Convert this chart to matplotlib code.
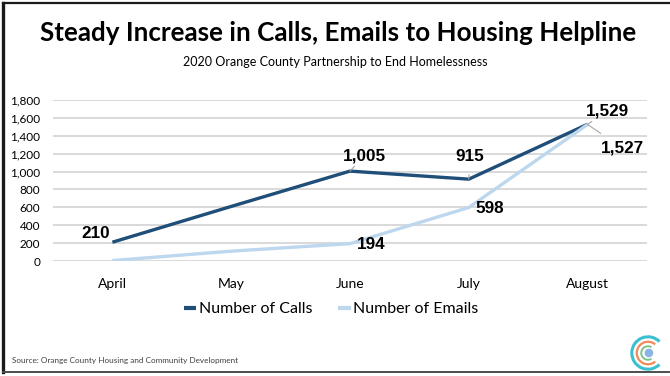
import matplotlib.pyplot as plt
from matplotlib.lines import Line2D
from matplotlib.patches import Arc, Circle

months = ["April", "May", "June", "July", "August"]
calls = [210, 610, 1005, 915, 1529]
emails = [5, 110, 194, 598, 1527]
yticks = [0, 200, 400, 600, 800, 1000, 1200, 1400, 1600, 1800]

# label offsets in pixels (x, y), None = no label
call_offsets = [(-17, 9), None, (14, 15), (1, 23), (20, 13)]
email_offsets = [None, None, (21, -1), (21, -1), (35, -24)]
call_leaders = [False, False, True, True, True]
email_leaders = [False, False, False, False, True]

dark = "#1f4e79"
light = "#bdd7ee"
body_font = "Lato"
num_font = "Liberation Sans"

fig = plt.figure(figsize=(6.7, 3.76), dpi=100)
ax = fig.add_axes([53 / 670, 1 - 261 / 376, 594 / 670, 161 / 376])

x = list(range(len(months)))
ax.plot(x, calls, color=dark, lw=2.4, solid_capstyle="butt", label="Number of Calls", zorder=3)
ax.plot(x, emails, color=light, lw=2.4, solid_capstyle="butt", label="Number of Emails", zorder=3)

ax.set_xlim(-0.5, len(months) - 0.5)
ax.set_ylim(0, 1800)
ax.set_yticks(yticks)
ax.set_yticklabels([f"{v:,}" for v in yticks], fontfamily=body_font, fontsize=8.5)
ax.set_xticks(x)
ax.set_xticklabels(months, fontfamily=body_font, fontsize=10)
ax.tick_params(axis="y", length=0, pad=9)
ax.tick_params(axis="x", length=0, pad=12)
ax.grid(axis="y", color="#d9d9d9", lw=1.4)
ax.set_axisbelow(True)
for s in ax.spines.values():
    s.set_visible(False)


def add_labels(vals, offsets, leaders):
    for i, v in enumerate(vals):
        if offsets[i] is None:
            continue
        props = None
        if leaders[i]:
            props = dict(arrowstyle="-", color="#a6a6a6", lw=0.8, shrinkA=6, shrinkB=0)
        ax.annotate(f"{v:,}", (i, v), xytext=offsets[i], textcoords="offset pixels",
                    ha="center", va="center", fontsize=12.3, fontweight="bold",
                    fontfamily=num_font, color="black", arrowprops=props, zorder=5)


add_labels(calls, call_offsets, call_leaders)
add_labels(emails, email_offsets, email_leaders)

leg = ax.legend(loc="center", bbox_to_anchor=((331 - 53) / 594, -0.3), ncol=2, frameon=False,
                handlelength=0.8, handletextpad=0.15, columnspacing=1.6,
                prop={"family": body_font, "size": 11.5})
for h in leg.get_lines():
    h.set_linewidth(3)

fig.text(0.505, 1 - 33 / 376, "Steady Increase in Calls, Emails to Housing Helpline",
         ha="center", va="center", fontsize=18.7, fontweight="bold", fontfamily=body_font)
fig.text(0.5, 1 - 62 / 376, "2020 Orange County Partnership to End Homelessness",
         ha="center", va="center", fontsize=9, fontfamily=body_font)
fig.text(12 / 670, 1 - 361 / 376, "Source: Orange County Housing and Community Development",
         ha="left", va="center", fontsize=5.9, fontfamily=body_font, color="#404040")

# frame on left, top and bottom of the graphic
fig.lines.append(Line2D([3 / 670, 3 / 670], [1 - 372 / 376, 1 - 3 / 376], transform=fig.transFigure,
                        color="#1a1a1a", lw=2.4))
fig.lines.append(Line2D([3 / 670, 669 / 670], [1 - 3 / 376, 1 - 3 / 376], transform=fig.transFigure,
                        color="#1a1a1a", lw=1.6))
fig.lines.append(Line2D([3 / 670, 669 / 670], [1 - 372 / 376, 1 - 372 / 376], transform=fig.transFigure,
                        color="#4d4d4d", lw=1.4))

# small logo, bottom right
lax = fig.add_axes([630 / 670, 1 - 372 / 376, 36 / 670, 38 / 376])
lax.set_xlim(-1, 1)
lax.set_ylim(-1.05, 1.05)
lax.set_aspect("equal")
lax.axis("off")
lax.add_patch(Arc((0, 0), 1.8, 1.8, theta1=45, theta2=315, color="#3cbfd0", lw=2.2))
lax.add_patch(Arc((0, 0), 1.25, 1.25, theta1=50, theta2=310, color="#ef8a5a", lw=1.6))
lax.add_patch(Arc((0, 0), 0.75, 0.75, theta1=60, theta2=300, color="#7dc48a", lw=1.4))
lax.add_patch(Circle((0.05, 0), 0.2, color="#8ab4e6"))

fig.savefig("out.png", dpi=100)
